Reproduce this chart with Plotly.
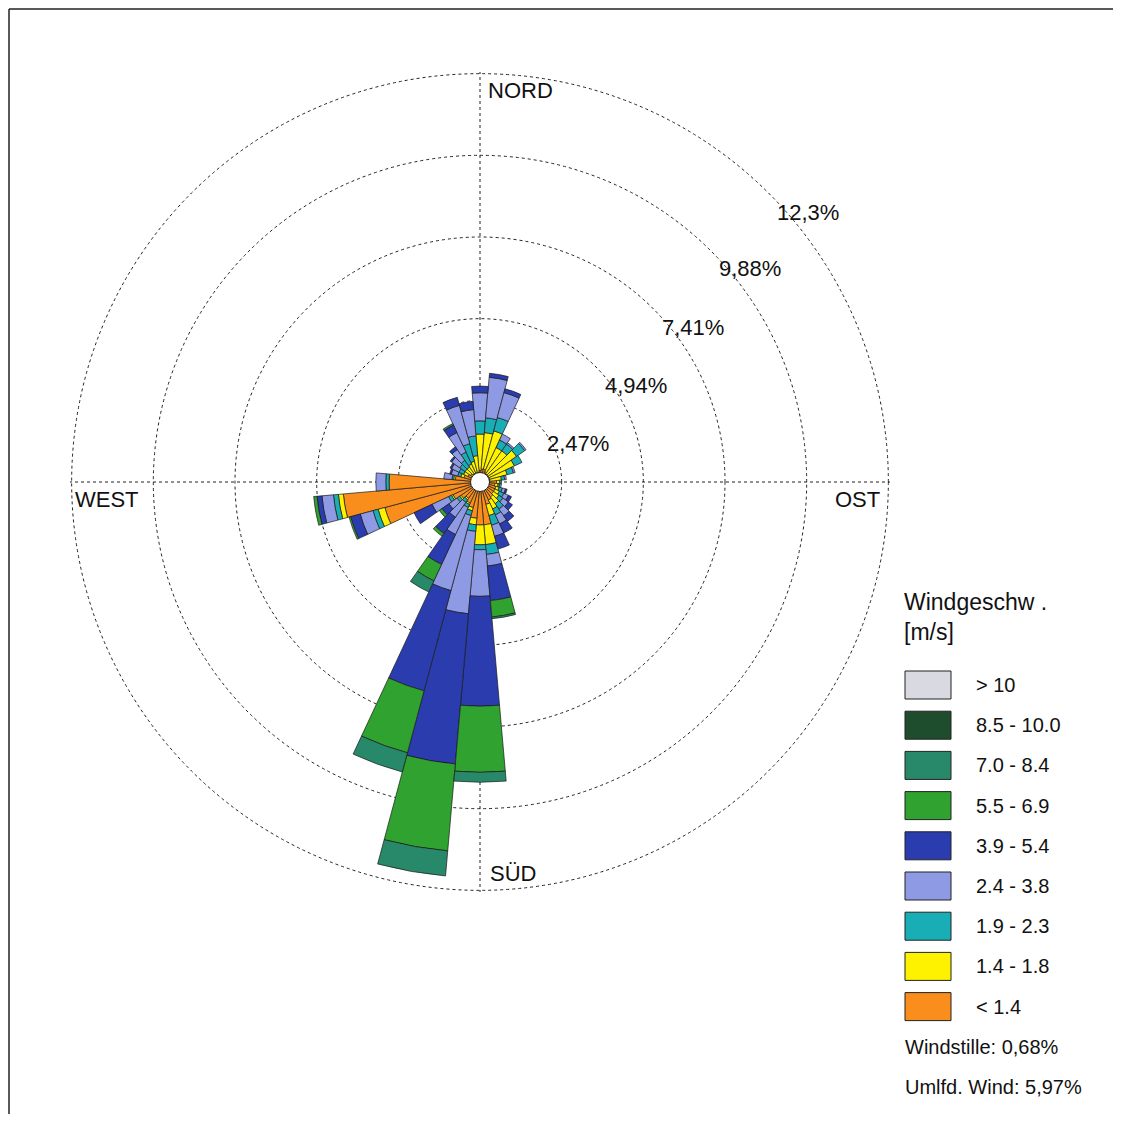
import plotly.graph_objects as go

# page has an 8px body margin; the figure fills the rest of the window
OFF = 8
W, H = 1113, 1106

# Sector directions (degrees, clockwise from north)
directions = list(range(0, 360, 10))

# Wind speed classes (inner -> outer) and colours
classes = ["< 1.4", "1.4 - 1.8", "1.9 - 2.3", "2.4 - 3.8", "3.9 - 5.4",
           "5.5 - 6.9", "7.0 - 8.4", "8.5 - 10.0", "> 10"]
colors = ["#F98E1D", "#FFF200", "#19AEB5", "#8E9AE3", "#2A3CAE",
          "#2FA22F", "#28896A", "#1E4D2E", "#D9D9E1"]

# Frequency (%) per sector for each speed class
s_lt14 = [0.35, 0.40, 0.40, 0.35, 0.30, 0.30, 0.30, 0.30, 0.30, 0.50, 0.45, 0.50,
          0.50, 0.50, 0.55, 0.60, 0.70, 1.30, 1.30, 1.10, 0.80, 0.70, 0.60, 0.70,
          0.90, 2.98, 4.15, 2.75, 0.75, 0.50, 0.40, 0.35, 0.30, 0.30, 0.30, 0.30]
s_14_18 = [1.10, 1.10, 1.20, 0.80, 0.85, 1.05, 0.85, 0.55, 0.35, 0.10, 0.10, 0.10,
           0.15, 0.20, 0.25, 0.30, 0.35, 0.60, 0.60, 0.20, 0.10, 0.05, 0.05, 0.05,
           0.05, 0.21, 0.15, 0.00, 0.05, 0.10, 0.15, 0.20, 0.25, 0.30, 0.35, 0.50]
s_19_23 = [0.40, 0.45, 0.42, 0.25, 0.25, 0.30, 0.25, 0.20, 0.10, 0.05, 0.05, 0.10,
           0.15, 0.15, 0.20, 0.20, 0.30, 0.30, 0.15, 0.20, 0.15, 0.10, 0.10, 0.10,
           0.10, 0.16, 0.15, 0.10, 0.05, 0.10, 0.15, 0.20, 0.25, 0.40, 0.55, 0.60]
s_24_38 = [0.85, 1.23, 0.78, 0.20, 0.05, 0.05, 0.00, 0.05, 0.05, 0.00, 0.05, 0.10,
           0.15, 0.20, 0.25, 0.30, 0.35, 0.35, 1.41, 2.50, 2.35, 0.90, 0.55, 0.30,
           0.55, 0.40, 0.35, 0.30, 0.25, 0.20, 0.25, 0.30, 0.40, 0.65, 1.20, 0.80]
s_39_54 = [0.20, 0.12, 0.12, 0.00, 0.00, 0.00, 0.00, 0.00, 0.00, 0.00, 0.00, 0.05,
           0.10, 0.15, 0.20, 0.30, 0.40, 1.05, 3.32, 4.56, 3.14, 1.00, 0.60, 0.25,
           0.60, 0.30, 0.15, 0.00, 0.00, 0.05, 0.05, 0.05, 0.10, 0.25, 0.25, 0.25]
s_55_69 = [0.00, 0.00, 0.00, 0.00, 0.00, 0.00, 0.00, 0.00, 0.00, 0.00, 0.00, 0.00,
           0.00, 0.00, 0.00, 0.00, 0.00, 0.50, 2.00, 2.64, 1.94, 0.55, 0.10, 0.10,
           0.00, 0.05, 0.10, 0.00, 0.00, 0.00, 0.00, 0.00, 0.00, 0.05, 0.00, 0.00]
s_70_84 = [0.00, 0.00, 0.00, 0.00, 0.00, 0.00, 0.00, 0.00, 0.00, 0.00, 0.00, 0.00,
           0.00, 0.00, 0.00, 0.00, 0.00, 0.05, 0.30, 0.76, 0.60, 0.37, 0.00, 0.00,
           0.00, 0.00, 0.00, 0.00, 0.00, 0.00, 0.00, 0.00, 0.00, 0.00, 0.00, 0.00]
s_85_10 = [0.0] * 36
s_gt10 = [0.0] * 36
series = [s_lt14, s_14_18, s_19_23, s_24_38, s_39_54, s_55_69, s_70_84, s_85_10, s_gt10]

# Ring values and labels
ring_values = [2.47, 4.94, 7.41, 9.88, 12.35]
ring_labels = ["2,47%", "4,94%", "7,41%", "9,88%", "12,3%"]
compass_labels = ["NORD", "OST", "SÜD", "WEST"]
calm_text = "Windstille: 0,68%"
variable_text = "Umlfd. Wind: 5,97%"
legend_title = "Windgeschw .<br>[m/s]"

FONT = "Liberation Sans, Arial, sans-serif"


def px(x):
    return (x - OFF) / W


def py(y):
    return 1 - (y - OFF) / H


fig = go.Figure()
for name, col, vals in zip(classes, colors, series):
    fig.add_trace(go.Barpolar(
        r=vals, theta=directions, width=[10] * len(directions), name=name,
        marker=dict(color=col, line=dict(color="#1a1a1a", width=0.7)),
        showlegend=False,
    ))

# central calm circle
fig.add_trace(go.Scatterpolar(
    r=[0], theta=[0], mode="markers", showlegend=False, hoverinfo="skip",
    marker=dict(size=19, color="white", line=dict(color="#222", width=1)),
))

annotations = []
# ring labels
ring_pos = [(578, 443), (636, 385), (693, 327), (750, 268), (808, 212)]
for lab, (x, y) in zip(ring_labels, ring_pos):
    annotations.append(dict(x=px(x), y=py(y), xref="paper", yref="paper", text=lab,
                            showarrow=False, xanchor="center", yanchor="middle",
                            font=dict(family=FONT, size=22, color="#111")))
# compass labels
comp_pos = [(486, 90, "left"), (882, 500, "right"), (488, 873, "left"), (73, 500, "left")]
for lab, (x, y, anc) in zip(compass_labels, comp_pos):
    annotations.append(dict(x=px(x), y=py(y), xref="paper", yref="paper", text=lab,
                            showarrow=False, xanchor=anc, yanchor="middle",
                            font=dict(family=FONT, size=22, color="#111")))

# legend (drawn manually)
shapes = []
annotations.append(dict(x=px(902), y=py(617), xref="paper", yref="paper", text=legend_title,
                        showarrow=False, xanchor="left", yanchor="middle", align="left",
                        font=dict(family=FONT, size=23, color="#111")))
for i, (name, col) in enumerate(zip(classes[::-1], colors[::-1])):
    yc = 685 + i * 40.2
    shapes.append(dict(type="rect", xref="paper", yref="paper",
                       x0=px(905), x1=px(951), y0=py(yc - 14), y1=py(yc + 14),
                       fillcolor=col, line=dict(color="#222", width=1)))
    annotations.append(dict(x=px(974), y=py(yc), xref="paper", yref="paper", text=name,
                            showarrow=False, xanchor="left", yanchor="middle",
                            font=dict(family=FONT, size=20, color="#111")))
annotations.append(dict(x=px(903), y=py(1047), xref="paper", yref="paper", text=calm_text,
                        showarrow=False, xanchor="left", yanchor="middle",
                        font=dict(family=FONT, size=20, color="#111")))
annotations.append(dict(x=px(903), y=py(1087), xref="paper", yref="paper", text=variable_text,
                        showarrow=False, xanchor="left", yanchor="middle",
                        font=dict(family=FONT, size=20, color="#111")))

# outer frame (left and top edges)
shapes.append(dict(type="line", xref="paper", yref="paper", x0=px(9), x1=px(9), y0=-0.05, y1=py(9),
                   line=dict(color="#222", width=1.5)))
shapes.append(dict(type="line", xref="paper", yref="paper", x0=px(9), x1=1.05, y0=py(9), y1=py(9),
                   line=dict(color="#222", width=1.5)))

fig.update_layout(
    width=W, height=H,
    margin=dict(l=0, r=0, t=0, b=0),
    paper_bgcolor="white",
    showlegend=False,
    polar=dict(
        domain=dict(x=[px(70), px(890)], y=[py(892), py(72)]),
        bgcolor="white",
        barmode="stack",
        angularaxis=dict(direction="clockwise", rotation=90,
                         tickvals=[0, 90, 180, 270], showticklabels=False, ticks="",
                         showgrid=True, gridcolor="#222", griddash="dot", gridwidth=1,
                         showline=False, layer="below traces"),
        radialaxis=dict(range=[0, 12.4], tickvals=ring_values, showticklabels=False,
                        ticks="", showgrid=True, gridcolor="#222", griddash="dot",
                        gridwidth=1, showline=False, layer="below traces"),
    ),
    annotations=annotations,
    shapes=shapes,
)

fig.write_html("out.html")
